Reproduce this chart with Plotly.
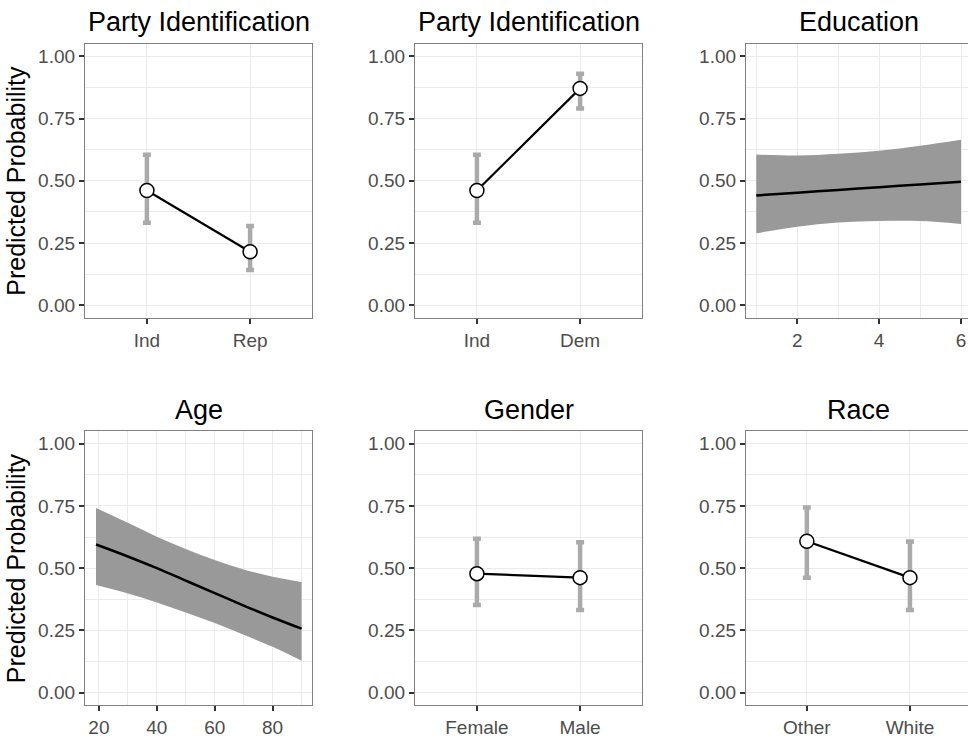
import plotly.graph_objects as go

W, H = 968, 738

# ---------------- data ----------------
rep_cats = ["Ind", "Rep"]
rep_est = [0.461, 0.215]
rep_lo = [0.331, 0.142]
rep_hi = [0.604, 0.318]

dem_cats = ["Ind", "Dem"]
dem_est = [0.461, 0.871]
dem_lo = [0.331, 0.790]
dem_hi = [0.604, 0.930]

edu_x = [1, 2, 3, 4, 5, 6]
edu_est = [0.441, 0.452, 0.463, 0.474, 0.485, 0.496]
edu_lo = [0.289, 0.315, 0.332, 0.338, 0.338, 0.326]
edu_hi = [0.605, 0.601, 0.608, 0.621, 0.641, 0.665]

age_x = [19, 30, 40, 50, 60, 70, 80, 90]
age_est = [0.595, 0.547, 0.500, 0.450, 0.400, 0.350, 0.302, 0.257]
age_lo = [0.432, 0.398, 0.362, 0.322, 0.280, 0.233, 0.184, 0.128]
age_hi = [0.742, 0.682, 0.626, 0.577, 0.533, 0.495, 0.466, 0.445]

gen_cats = ["Female", "Male"]
gen_est = [0.478, 0.462]
gen_lo = [0.352, 0.332]
gen_hi = [0.618, 0.604]

race_cats = ["Other", "White"]
race_est = [0.608, 0.462]
race_lo = [0.462, 0.332]
race_hi = [0.744, 0.607]

titles = ["Party Identification", "Party Identification", "Education",
          "Age", "Gender", "Race"]
y_title = "Predicted Probability"
y_ticks = [0.0, 0.25, 0.5, 0.75, 1.0]

# ---------------- styling ----------------
FONT = "Liberation Sans, Arial, sans-serif"
TICKCOL = "#4d4d4d"
BORDER = "#808080"
GRID = "#ebebeb"
ERRCOL = "#aaaaaa"
BAND = "#999999"

# pixel geometry of panels
col_px = [(85, 312), (415, 642), (746, 968)]
row_px = [(44, 319), (433, 708)]
title_cx = [198.5, 528.5, 858.5]
title_cy = [22, 412]

fig = go.Figure()


def ax_name(i, kind):
    return kind if i == 1 else f"{kind}{i}"


def add_points(i, cats, est, lo, hi):
    xa, ya = ax_name(i, "x"), ax_name(i, "y")
    fig.add_trace(go.Scatter(
        x=cats, y=est, mode="markers", xaxis=xa, yaxis=ya,
        marker=dict(size=1, opacity=0),
        error_y=dict(type="data", symmetric=False,
                     array=[h - e for h, e in zip(hi, est)],
                     arrayminus=[e - l for e, l in zip(est, lo)],
                     color=ERRCOL, thickness=4.5, width=4),
        showlegend=False, hoverinfo="skip"))
    fig.add_trace(go.Scatter(
        x=cats, y=est, mode="lines+markers", xaxis=xa, yaxis=ya,
        line=dict(color="black", width=2.2),
        marker=dict(size=14, color="white", line=dict(color="black", width=1.5)),
        showlegend=False))


def add_band(i, xs, est, lo, hi):
    xa, ya = ax_name(i, "x"), ax_name(i, "y")
    fig.add_trace(go.Scatter(
        x=xs, y=lo, mode="lines", line=dict(width=0, shape="spline", color=BAND),
        xaxis=xa, yaxis=ya, showlegend=False, hoverinfo="skip"))
    fig.add_trace(go.Scatter(
        x=xs, y=hi, mode="lines", fill="tonexty", fillcolor=BAND,
        line=dict(width=0, shape="spline", color=BAND),
        xaxis=xa, yaxis=ya, showlegend=False, hoverinfo="skip"))
    fig.add_trace(go.Scatter(
        x=xs, y=est, mode="lines", line=dict(color="black", width=2.5, shape="spline"),
        xaxis=xa, yaxis=ya, showlegend=False))


add_points(1, rep_cats, rep_est, rep_lo, rep_hi)
add_points(2, dem_cats, dem_est, dem_lo, dem_hi)
add_band(3, edu_x, edu_est, edu_lo, edu_hi)
add_band(4, age_x, age_est, age_lo, age_hi)
add_points(5, gen_cats, gen_est, gen_lo, gen_hi)
add_points(6, race_cats, race_est, race_lo, race_hi)

tickfont = dict(family=FONT, size=19, color=TICKCOL)

layout = dict(
    width=W, height=H, margin=dict(l=0, r=0, t=0, b=0),
    paper_bgcolor="white", plot_bgcolor="white",
    font=dict(family=FONT), showlegend=False,
)

x_ranges = {1: [-0.6, 1.6], 2: [-0.6, 1.6], 3: [0.75, 6.17],
            4: [15.2, 93.6], 5: [-0.6, 1.6], 6: [-0.59, 1.563]}

for i in range(1, 7):
    r = 0 if i <= 3 else 1
    c = (i - 1) % 3
    x0, x1 = col_px[c]
    y0, y1 = row_px[r]
    xkey = "xaxis" if i == 1 else f"xaxis{i}"
    ykey = "yaxis" if i == 1 else f"yaxis{i}"
    xa = dict(
        domain=[x0 / W, x1 / W], anchor=ax_name(i, "y"),
        range=x_ranges[i], showline=True, linecolor=BORDER, linewidth=1.3,
        mirror=True, ticks="outside", ticklen=5, tickwidth=2,
        tickcolor="#333333", tickfont=tickfont, showgrid=True,
        gridcolor=GRID, gridwidth=1, zeroline=False, fixedrange=True,
    )
    if i == 3:
        xa.update(tickmode="array", tickvals=[2, 4, 6],
                  minor=dict(tickmode="array", tickvals=[1, 3, 5],
                             showgrid=True, gridcolor=GRID, gridwidth=0.8, ticklen=0))
    elif i == 4:
        xa.update(tickmode="array", tickvals=[20, 40, 60, 80],
                  minor=dict(tickmode="array", tickvals=[30, 50, 70, 90],
                             showgrid=True, gridcolor=GRID, gridwidth=0.8, ticklen=0))
    else:
        xa.update(type="category")
    ya = dict(
        domain=[1 - y1 / H, 1 - y0 / H], anchor=ax_name(i, "x"),
        range=[-0.05, 1.05], showline=True, linecolor=BORDER, linewidth=1.3,
        mirror=(c != 2), ticks="outside", ticklen=5, tickwidth=2,
        tickcolor="#333333", tickfont=tickfont, tickmode="array",
        tickvals=y_ticks, ticktext=[f"{v:.2f}" for v in y_ticks],
        showgrid=True, gridcolor=GRID, gridwidth=1, zeroline=False,
        minor=dict(tickmode="array", tickvals=[0.125, 0.375, 0.625, 0.875],
                   showgrid=True, gridcolor=GRID, gridwidth=0.8, ticklen=0),
        fixedrange=True,
    )
    layout[xkey] = xa
    layout[ykey] = ya

annotations = []
for i, t in enumerate(titles):
    r = 0 if i < 3 else 1
    c = i % 3
    annotations.append(dict(
        text=t, x=title_cx[c] / W, y=1 - title_cy[r] / H, xref="paper", yref="paper",
        xanchor="center", yanchor="middle", showarrow=False,
        font=dict(family=FONT, size=27, color="black")))
for r in range(2):
    cy = (row_px[r][0] + row_px[r][1]) / 2
    annotations.append(dict(
        text=y_title, x=16 / W, y=1 - cy / H, xref="paper", yref="paper",
        xanchor="center", yanchor="middle", textangle=-90, showarrow=False,
        font=dict(family=FONT, size=25, color="black")))
layout["annotations"] = annotations

fig.update_layout(**layout)
fig.write_html("out.html")
